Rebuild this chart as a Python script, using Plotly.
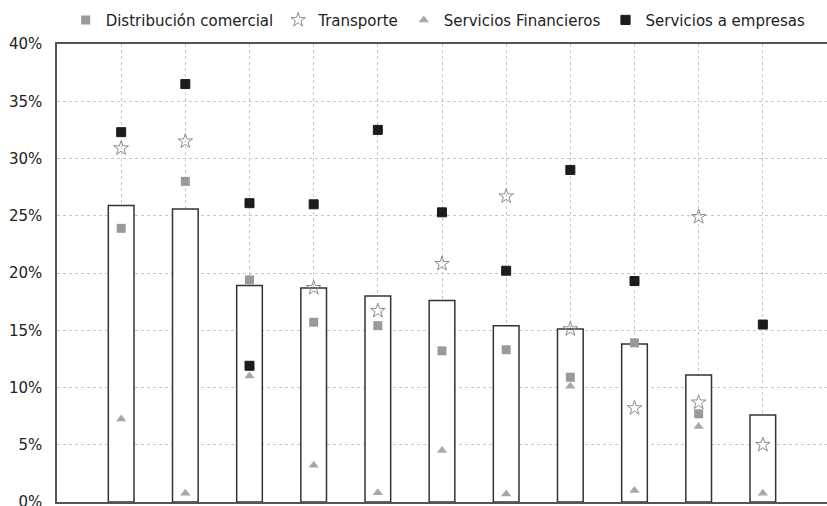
import plotly.graph_objects as go

# Eleven unlabeled sectors / groups along the x axis
categories = list(range(11))

# Column values (%)
total = [25.9, 25.6, 18.9, 18.7, 18.0, 17.6, 15.4, 15.1, 13.8, 11.1, 7.6]

# Marker series (%)
distribucion = [23.9, 28.0, 19.4, 15.7, 15.4, 13.2, 13.3, 10.9, 13.9, 7.7, None]
transporte = [30.9, 31.5, 11.9, 18.7, 16.7, 20.8, 26.7, 15.1, 8.2, 8.7, 5.0]
financieros = [7.25, 0.76, 11.0, 3.2, 0.8, 4.5, 0.7, 10.1, 1.0, 6.6, 0.76]
empresas = [32.3, 36.5, 26.1, 26.0, 32.5, 25.3, 20.2, 29.0, 19.3, 24.9, 15.5]

tick_vals = [0, 5, 10, 15, 20, 25, 30, 35, 40]
tick_text = [f"{v}%" for v in tick_vals]

FONT = "DejaVu Sans"
GRAY_SQ = "#9a9a9a"
STAR = "#8c8c8c"
TRI = "#a8a8a8"
BLACK = "#1e1b1c"

# Points drawn with another series' marker style
transporte_sym = ["star-open"] * 11
transporte_col = [STAR] * 11
transporte_size = [11] * 11
transporte_sym[2], transporte_col[2], transporte_size[2] = "square", BLACK, 9

empresas_sym = ["square"] * 11
empresas_col = [BLACK] * 11
empresas_size = [9] * 11
empresas_sym[9], empresas_col[9], empresas_size[9] = "star-open", STAR, 11

fig = go.Figure()

fig.add_trace(go.Bar(
    x=categories, y=total, width=0.4,
    marker=dict(color="white", line=dict(color="#333333", width=1.5)),
    showlegend=False, hoverinfo="skip",
))

fig.add_trace(go.Scatter(
    x=categories, y=distribucion, mode="markers", name="Distribución comercial",
    marker=dict(symbol="square", size=9, color=GRAY_SQ, opacity=1, line=dict(width=0)),
))
fig.add_trace(go.Scatter(
    x=categories, y=transporte, mode="markers", name="Transporte",
    marker=dict(symbol=transporte_sym, size=transporte_size, color=transporte_col,
                opacity=1, line=dict(width=1, color=transporte_col)),
))
fig.add_trace(go.Scatter(
    x=categories, y=financieros, mode="markers", name="Servicios Financieros",
    marker=dict(symbol="triangle-up", size=9, color=TRI, opacity=1, line=dict(width=0)),
))
fig.add_trace(go.Scatter(
    x=categories, y=empresas, mode="markers", name="Servicios a empresas",
    marker=dict(symbol=empresas_sym, size=empresas_size, color=empresas_col,
                opacity=1, line=dict(width=1, color=empresas_col)),
))

fig.update_layout(
    width=827, height=506,
    margin=dict(l=57, r=0, t=44, b=4, autoexpand=False),
    plot_bgcolor="white", paper_bgcolor="white",
    font=dict(family=FONT, size=15, color="#222222"),
    showlegend=True,
    legend=dict(orientation="h", x=0.495, xanchor="center", y=1.052, yanchor="middle",
                font=dict(family=FONT, size=15, color="#222222"),
                itemwidth=30, tracegroupgap=0, bgcolor="rgba(0,0,0,0)"),
    bargap=0.6,
)

fig.update_xaxes(
    range=[-1, 11], tickvals=categories, showticklabels=False,
    showgrid=True, gridcolor="#c8c8c8", griddash="3px,3px", gridwidth=1,
    showline=True, linecolor="#555555", linewidth=1.5, mirror=True,
    zeroline=False, ticks="", automargin=False,
)
fig.update_yaxes(
    range=[0, 40], tickvals=tick_vals, ticktext=tick_text,
    showgrid=True, gridcolor="#c8c8c8", griddash="3px,3px", gridwidth=1,
    showline=True, linecolor="#555555", linewidth=1.5,
    zeroline=False, ticks="", ticklabelstandoff=10, ticklabeloverflow="allow",
    automargin=False,
    tickfont=dict(family=FONT, size=15, color="#222222"),
)

fig.write_html("out.html")
